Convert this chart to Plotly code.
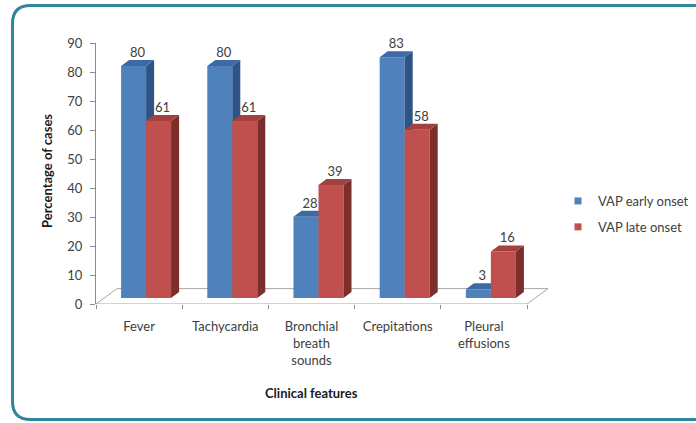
import plotly.graph_objects as go

# Clinical features of ventilator-associated pneumonia, % of cases
categories = ["Fever", "Tachycardia", "Bronchial<br>breath<br>sounds", "Crepitations", "Pleural<br>effusions"]
early_onset = [80, 80, 28, 83, 3]
late_onset = [61, 61, 39, 58, 16]
series_names = ["VAP early onset", "VAP late onset"]
y_ticks = list(range(0, 100, 10))

# ---- canvas / plot-area geometry (pixels) ----
FIG_W, FIG_H = 696, 423
PL, PR, PT, PB = 96, 692, 43, 304          # plot area box (legend sits inside)
X_RANGE = [-0.5, -0.5 + (PR - PL) / 86.2]  # one category = 86.2 px
Y_RANGE = [0, 90]

# pseudo-3D projection (in axis units)
FLOOR_DX, FLOOR_DY = 0.244, 5.3   # depth of the floor
SHIFT_X, SHIFT_Y = 0.081, 2.07    # bars sit part-way back on the floor
DEPTH_X, DEPTH_Y = 0.093, 2.07    # depth of each bar
BAR_W = 0.29

TEXT = "#404040"
AXIS = "#8C8C8C"
FONT = "Lato"
FS = 13

colors = {
    "early": dict(front="#4F81BD", top="#3D69A4", side="#2E5386"),
    "late": dict(front="#C0504D", top="#A3413E", side="#7B2E2C"),
}

idx = list(range(len(categories)))

fig = go.Figure()

# floor of the 3-D plot area
fx0, fx1 = -0.5, len(categories) - 0.5
fig.add_trace(go.Scatter(
    x=[fx0, fx1, fx1 + FLOOR_DX, fx0 + FLOOR_DX, fx0],
    y=[0, 0, FLOOR_DY, FLOOR_DY, 0],
    mode="lines", fill="toself", fillcolor="white",
    line=dict(color="#A6A6A6", width=1),
    hoverinfo="skip", showlegend=False, xaxis="x", yaxis="y",
))


def add_series(values, key, name, offset, xa, ya):
    c = colors[key]
    # front faces
    fig.add_trace(go.Bar(
        x=idx, y=values, width=BAR_W, offset=offset,
        marker=dict(color=c["front"], line=dict(width=0)),
        name=name, showlegend=False, xaxis=xa, yaxis=ya,
    ))
    side_x, side_y, top_x, top_y = [], [], [], []
    for i, v in zip(idx, values):
        left = i + offset
        right = left + BAR_W
        side_x += [right, right, right + DEPTH_X, right + DEPTH_X, right, None]
        side_y += [0, v, v + DEPTH_Y, DEPTH_Y, 0, None]
        top_x += [left, right, right + DEPTH_X, left + DEPTH_X, left, None]
        top_y += [v, v, v + DEPTH_Y, v + DEPTH_Y, v, None]
    fig.add_trace(go.Scatter(
        x=side_x, y=side_y, mode="lines", fill="toself", fillcolor=c["side"],
        line=dict(width=0, color=c["side"]), hoverinfo="skip",
        showlegend=False, xaxis=xa, yaxis=ya,
    ))
    fig.add_trace(go.Scatter(
        x=top_x, y=top_y, mode="lines", fill="toself", fillcolor=c["top"],
        line=dict(width=0, color=c["top"]), hoverinfo="skip",
        showlegend=False, xaxis=xa, yaxis=ya,
    ))
    # value labels above each bar
    fig.add_trace(go.Scatter(
        x=[i + offset + BAR_W / 2 + DEPTH_X / 2 for i in idx],
        y=[v + DEPTH_Y for v in values],
        mode="text", text=[str(v) for v in values], textposition="top center",
        textfont=dict(family=FONT, size=FS, color=TEXT), cliponaxis=False,
        hoverinfo="skip", showlegend=False, xaxis=xa, yaxis=ya,
    ))
    # legend entry
    fig.add_trace(go.Scatter(
        x=[None], y=[None], mode="markers", name=name, legendgroup=key,
        marker=dict(symbol="square", size=7, color=c["front"]),
        xaxis="x", yaxis="y",
    ))


add_series(early_onset, "early", series_names[0], -BAR_W, "x2", "y2")
add_series(late_onset, "late", series_names[1], 0.0, "x3", "y3")

shifted_x = [X_RANGE[0] - SHIFT_X, X_RANGE[1] - SHIFT_X]
shifted_y = [Y_RANGE[0] - SHIFT_Y, Y_RANGE[1] - SHIFT_Y]
hidden = dict(visible=False, showgrid=False, zeroline=False, fixedrange=True)


def px_x(px):
    return (px - PL) / (PR - PL)


def px_y(py):
    return (PB - py) / (PB - PT)


# rounded frame around the chart (open on the right side)
r = 18
fl, ft, fb, fr = 12.5, 5.5, 419.5, 710
frame = (
    f"M {px_x(fr)},{px_y(ft)} L {px_x(fl + r)},{px_y(ft)} "
    f"Q {px_x(fl)},{px_y(ft)} {px_x(fl)},{px_y(ft + r)} "
    f"L {px_x(fl)},{px_y(fb - r)} "
    f"Q {px_x(fl)},{px_y(fb)} {px_x(fl + r)},{px_y(fb)} "
    f"L {px_x(fr)},{px_y(fb)}"
)

fig.update_layout(
    width=FIG_W, height=FIG_H,
    margin=dict(l=PL, r=FIG_W - PR, t=PT, b=FIG_H - PB, pad=0, autoexpand=False),
    paper_bgcolor="white", plot_bgcolor="rgba(0,0,0,0)",
    font=dict(family=FONT, size=FS, color=TEXT),
    xaxis=dict(
        range=X_RANGE, tickmode="array", tickvals=idx, ticktext=categories,
        ticks="", showline=False, showgrid=False, zeroline=False,
        tickfont=dict(family=FONT, size=FS, color=TEXT), ticklabelstandoff=13,
        minor=dict(tickmode="array", tickvals=[i - 0.5 for i in idx] + [idx[-1] + 0.5],
                   ticks="outside", ticklen=4, tickcolor=AXIS, showgrid=False),
        fixedrange=True, automargin=False,
    ),
    yaxis=dict(
        range=Y_RANGE, tickmode="array", tickvals=y_ticks,
        ticks="outside", ticklen=5, tickcolor=AXIS,
        showline=True, linecolor=AXIS, linewidth=1,
        showgrid=False, zeroline=False, ticklabelstandoff=5,
        tickfont=dict(family=FONT, size=FS, color=TEXT), fixedrange=True,
        automargin=False,
    ),
    xaxis2=dict(overlaying="x", range=shifted_x, **hidden),
    yaxis2=dict(overlaying="y", range=shifted_y, **hidden),
    xaxis3=dict(overlaying="x", range=shifted_x, **hidden),
    yaxis3=dict(overlaying="y", range=shifted_y, **hidden),
    legend=dict(
        x=px_x(558), y=px_y(186), xanchor="left", yanchor="top",
        bgcolor="rgba(0,0,0,0)", tracegroupgap=6, traceorder="grouped",
        itemwidth=30, font=dict(family=FONT, size=FS, color=TEXT),
    ),
    shapes=[dict(type="path", path=frame, xref="paper", yref="paper",
                 line=dict(color="#31869B", width=3), layer="above")],
    annotations=[
        dict(text="<b>Percentage of cases</b>", x=px_x(47), y=px_y(171),
             xref="paper", yref="paper", xanchor="center", yanchor="middle",
             textangle=-90, showarrow=False,
             font=dict(family=FONT, size=FS, color="#1a1a1a")),
        dict(text="<b>Clinical features</b>", x=px_x(311), y=px_y(393),
             xref="paper", yref="paper", xanchor="center", yanchor="middle",
             showarrow=False,
             font=dict(family=FONT, size=FS, color="#1a1a1a")),
    ],
)

fig.write_html("out.html")
